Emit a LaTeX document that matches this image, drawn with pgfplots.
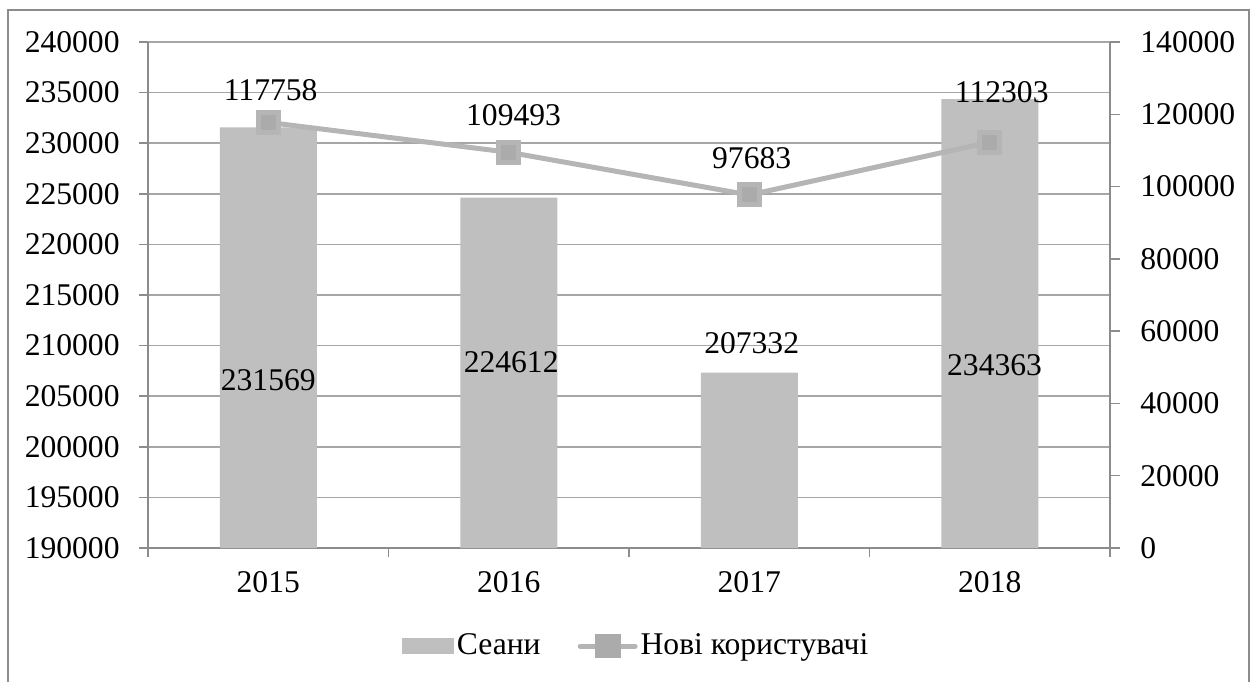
\documentclass[border=0pt]{standalone}
\usepackage{fontspec}
\setmainfont{Liberation Serif}
\usepackage{pgfplots}
\pgfplotsset{compat=1.18}
\definecolor{barc}{HTML}{BFBFBF}
\definecolor{linec}{HTML}{B5B5B5}
\definecolor{markc}{HTML}{ABABAB}
\definecolor{axc}{HTML}{8C8C8C}
\definecolor{gridc}{HTML}{A6A6A6}
\begin{document}
\fontsize{15.8}{18}\selectfont
\begin{tikzpicture}
\useasboundingbox (0,0) rectangle (627pt,341pt);
\draw[axc, line width=1pt] (4pt,0pt) -- (4pt,336pt) -- (624.5pt,336pt) -- (624.5pt,0pt);
\begin{axis}[
  at={(74pt,67pt)}, anchor=south west,
  scale only axis, width=481pt, height=253pt,
  xmin=-0.5, xmax=3.5, ymin=190000, ymax=240000,
  ytick={190000,195000,...,240000},
  xtick={0,1,2,3}, xticklabels={2015,2016,2017,2018},
  major x tick style={draw=none},
  extra x ticks={-0.5,0.5,1.5,2.5,3.5}, extra x tick labels={},
  extra x tick style={major x tick style={draw=axc, line width=0.75pt}, xmajorgrids=false},
  tick align=outside, major tick length=4.5pt,
  xtick pos=bottom, ytick pos=left,
  ymajorgrids, grid style={gridc, line width=0.75pt},
  axis line style={axc, line width=0.75pt},
  major tick style={axc, line width=0.75pt},
  axis x line*=bottom, axis y line*=left,
  scaled y ticks=false,
  /pgf/number format/fixed, /pgf/number format/precision=0,
  /pgf/number format/1000 sep={}, /pgf/number format/assume math mode=true,
  yticklabel style={anchor=east, inner sep=0pt, xshift=-9.5pt},
  xticklabel style={anchor=north, inner sep=0pt, yshift=-7pt},
  tick label style={font=\fontsize{15.8}{18}\selectfont},
]
\addplot[ybar, bar width=48.5pt, fill=barc, draw=none] coordinates {(0,231569)(1,224612)(2,207332)(3,234363)};
\node at (axis cs:0,206600) {231569};
\node at (axis cs:1.01,208400) {224612};
\node at (axis cs:2.01,210250) {207332};
\node at (axis cs:3.02,208100) {234363};
\end{axis}
\begin{axis}[
  at={(74pt,67pt)}, anchor=south west,
  scale only axis, width=481pt, height=253pt,
  xmin=-0.5, xmax=3.5, ymin=0, ymax=140000,
  ytick={0,20000,...,140000},
  axis x line=none, axis y line*=right,
  tick align=outside, major tick length=5pt,
  axis line style={axc, line width=0.75pt},
  major tick style={axc, line width=0.75pt},
  scaled y ticks=false,
  /pgf/number format/fixed, /pgf/number format/precision=0,
  /pgf/number format/1000 sep={}, /pgf/number format/assume math mode=true,
  yticklabel style={anchor=west, inner sep=0pt, xshift=10pt},
  tick label style={font=\fontsize{15.8}{18}\selectfont},
  legend columns=2,
  legend style={draw=none, fill=none, at={(0.508,-0.194)}, anchor=center,
    font=\fontsize{15.8}{18}\selectfont,
    nodes={inner xsep=1.5pt, inner ysep=0pt},
    /tikz/every even column/.append style={column sep=17pt}},
  legend cell align=left,
]
\addlegendimage{legend image code/.code={\fill[barc] (0pt,-3.75pt) rectangle (25.5pt,3.75pt);}}
\addlegendentry{Сеани}
\addplot[linec, line width=2.5pt, mark=square*, mark size=5pt, mark options={fill=markc, draw=none},
  legend image code/.code={\draw[linec,line width=2.5pt,line cap=round] (0pt,0pt)--(27.5pt,0pt); \fill[markc] (8.5pt,-4.75pt) rectangle (19pt,4.75pt);}]
  coordinates {(0,117758)(1,109493)(2,97683)(3,112303)};
\addlegendentry{Нові користувачі}
\node at (axis cs:0.01,126700) {117758};
\node at (axis cs:1.02,119800) {109493};
\node at (axis cs:2.01,107900) {97683};
\node at (axis cs:3.05,126200) {112303};
\end{axis}
\end{tikzpicture}
\end{document}
